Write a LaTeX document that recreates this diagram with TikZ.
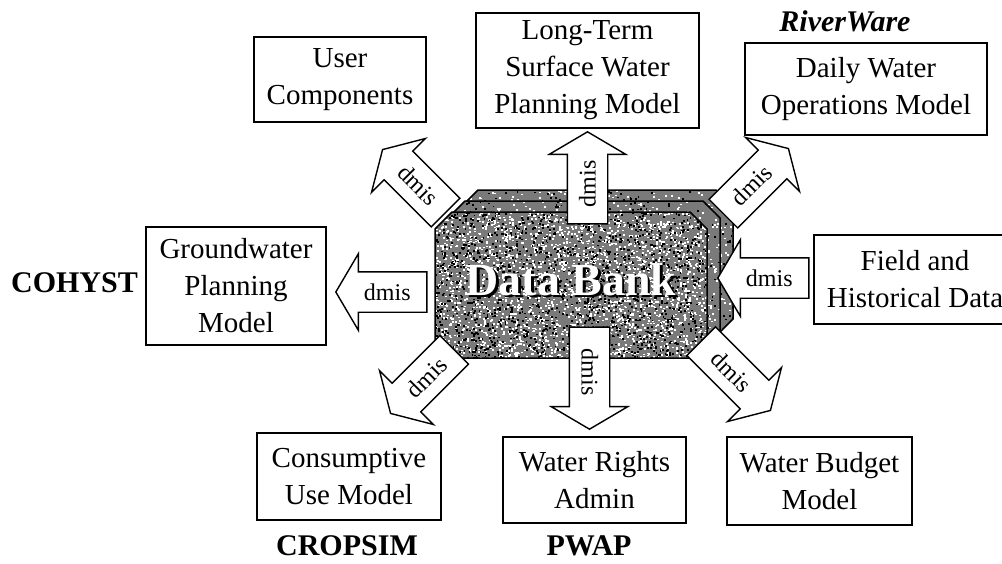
\documentclass[tikz,border=0pt]{standalone}
\usepackage{fontspec}
\setmainfont{Liberation Serif}
\usetikzlibrary{shapes.arrows}

% octagonal card outline
\newcommand\bankcard{(452,212) -- (690,212) -- (707,229) -- (707,341) -- (690,358)
  -- (452,358) -- (435,341) -- (435,229) -- cycle}

\tikzset{
  modelbox/.style={draw, line width=1.3pt, fill=white, align=center, inner sep=0pt,
    font=\fontsize{29}{37}\selectfont},
  tag/.style={anchor=base, font=\fontsize{30}{36}\selectfont\bfseries},
  dmisarrow/.style={single arrow, draw, line width=1.4pt, fill=white,
    single arrow tip angle=119, single arrow head extend=18pt,
    font=\fontsize{24}{24}\selectfont, text height=16pt, text depth=0pt,
    inner ysep=11.5pt, inner xsep=0pt, anchor=tip},
  banktext/.style={anchor=base, font=\fontsize{46}{46}\selectfont\bfseries},
}

\begin{document}
\begin{tikzpicture}[x=1pt, y=-1pt]
\useasboundingbox[fill=white] (0,0) rectangle (1002,563);
\pgfmathsetseed{4711}

% ---- the data bank: three stacked speckled cards ----
\foreach \ox/\oy/\nw/\nb in {26/-22/700/500, 13/-11/700/500, 0/0/2600/1600}{
  \begin{scope}[shift={(\ox,\oy)}]
    \begin{scope}
      \clip \bankcard;
      \fill[black!52] (430,205) rectangle (712,362);
      \foreach \k in {1,...,\nw}{
        \fill[white] (435+272*rnd,212+146*rnd) rectangle +(2,1.6);}
      \foreach \k in {1,...,\nb}{
        \fill[black] (435+272*rnd,212+146*rnd) rectangle +(1.8,1.8);}
    \end{scope}
    \draw[line width=1.5pt] \bankcard;
  \end{scope}
}
% title: white letters over a black drop shadow
\node[banktext, text=black] (bankshadow) at (573.5,297.5) {Data Bank};
\node[banktext, text=white] (banktitle) at (571,295) {Data Bank};

% ---- surrounding models ----
\node[modelbox, minimum width=172pt, minimum height=85pt] (usr) at (340,79.5) {User\\Components};
\node[modelbox, minimum width=223pt, minimum height=115pt] (ltm) at (587.5,70.5) {Long-Term\\Surface Water\\Planning Model};
\node[modelbox, minimum width=242pt, minimum height=92pt] (daily) at (866,89) {Daily Water\\Operations Model};
\node[modelbox, minimum width=180pt, minimum height=118pt] (gw) at (236,286) {Groundwater\\Planning\\Model};
\node[modelbox, minimum width=202pt, minimum height=89pt] (field) at (915,279.5) {Field and\\Historical Data};
\node[modelbox, minimum width=184pt, minimum height=87pt] (cons) at (349,476.5) {Consumptive\\Use Model};
\node[modelbox, minimum width=183pt, minimum height=86pt] (wr) at (594.5,480) {Water Rights\\Admin};
\node[modelbox, minimum width=185pt, minimum height=88pt] (wb) at (819.5,481) {Water Budget\\Model};

% ---- program names ----
\node[tag] (rw) at (845,31) {\itshape RiverWare};
\node[tag] (cohyst) at (74.5,292) {COHYST};
\node[tag] (cropsim) at (347,555) {CROPSIM};
\node[tag] (pwap) at (589,555) {PWAP};

% ---- dmis transfer arrows ----
\node[dmisarrow, minimum height=92pt, rotate=90] (aup) at (587.5,131) {dmis};
\node[dmisarrow, minimum height=102pt, rotate=-90] (adown) at (589.5,430) {dmis};
\node[dmisarrow, minimum height=91pt, shape border rotate=180] (aleft) at (335,292) {dmis};
\node[dmisarrow, minimum height=91pt, shape border rotate=180] (ain) at (717,278) {dmis};
\node[dmisarrow, minimum height=89pt, rotate=-45, shape border rotate=180] (anw) at (382,149) {dmis};
\node[dmisarrow, minimum height=92pt, rotate=45] (ane) at (789,148) {dmis};
\node[dmisarrow, minimum height=90pt, rotate=45, shape border rotate=180] (asw) at (390,414) {dmis};
\node[dmisarrow, minimum height=98pt, rotate=-45] (ase) at (771,411) {dmis};
\end{tikzpicture}
\end{document}
